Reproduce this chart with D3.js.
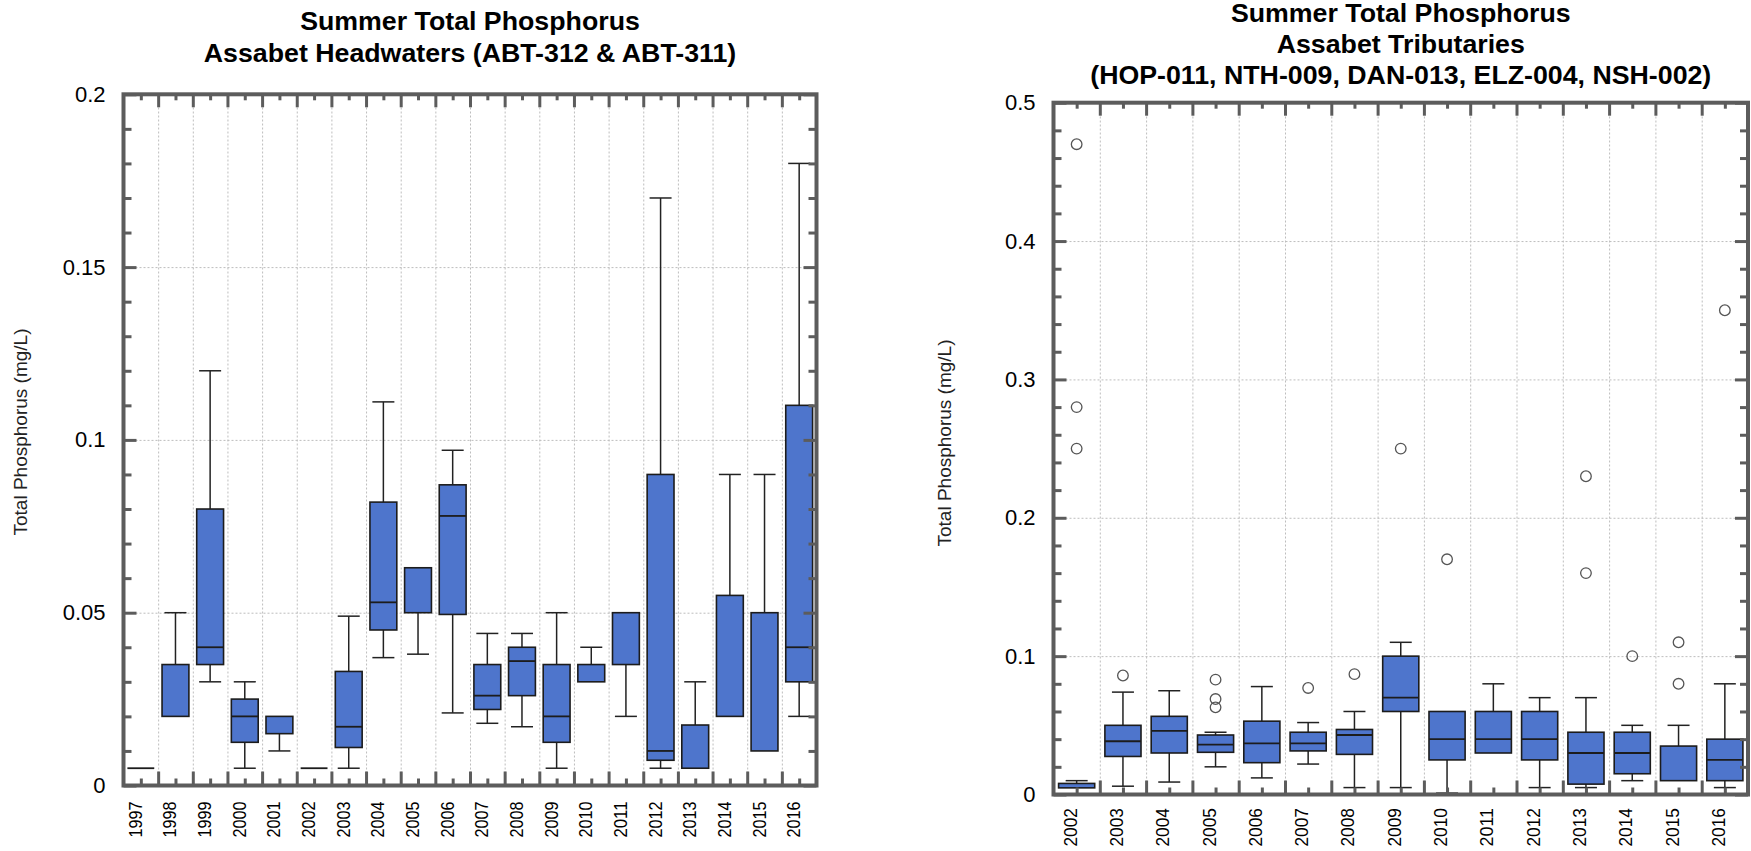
<!DOCTYPE html>
<html><head><meta charset="utf-8">
<script src="https://cdn.jsdelivr.net/npm/d3@7"></script>
<style>
body{margin:0;background:#fff;}
svg{display:block;font-family:"Liberation Sans",Arial,Helvetica,sans-serif;}
</style></head><body>
<svg id="chart" width="1751" height="851"></svg>
<script>
// ---------- Left panel: Assabet Headwaters ----------
const headYears  = ["1997","1998","1999","2000","2001","2002","2003","2004","2005","2006","2007","2008","2009","2010","2011","2012","2013","2014","2015","2016"];
const headMin    = [0.005,0.020,0.030,0.005,0.010,0.005,0.005,0.037,0.038,0.021,0.018,0.017,0.005,0.030,0.020,0.005,0.005,0.020,0.010,0.020];
const headQ1     = [0.005,0.020,0.035,0.0125,0.015,0.005,0.011,0.045,0.050,0.0495,0.022,0.026,0.0125,0.030,0.035,0.0073,0.005,0.020,0.010,0.030];
const headMedian = [0.005,0.020,0.040,0.020,0.015,0.005,0.017,0.053,0.050,0.078,0.026,0.036,0.020,0.030,0.035,0.010,0.005,0.020,0.010,0.040];
const headQ3     = [0.005,0.035,0.080,0.025,0.020,0.005,0.033,0.082,0.063,0.087,0.035,0.040,0.035,0.035,0.050,0.090,0.0175,0.055,0.050,0.110];
const headMax    = [0.005,0.050,0.120,0.030,0.020,0.005,0.049,0.111,0.063,0.097,0.044,0.044,0.050,0.040,0.050,0.170,0.030,0.090,0.090,0.180];
const headOutliers = headYears.map(() => []);
const headYTicks = [0, 0.05, 0.1, 0.15, 0.2];
const headYMinor = [0.01,0.02,0.03,0.04,0.06,0.07,0.08,0.09,0.11,0.12,0.13,0.14,0.16,0.17,0.18,0.19];
const headTitle  = ["Summer Total Phosphorus", "Assabet Headwaters (ABT-312 & ABT-311)"];

// ---------- Right panel: Assabet Tributaries ----------
const tribYears  = ["2002","2003","2004","2005","2006","2007","2008","2009","2010","2011","2012","2013","2014","2015","2016"];
const tribMin    = [0.0048,0.006,0.009,0.020,0.012,0.022,0.005,0.005,0.001,0.030,0.005,0.005,0.010,0.010,0.005];
const tribQ1     = [0.0048,0.0275,0.030,0.0305,0.023,0.0315,0.029,0.060,0.025,0.030,0.025,0.0075,0.015,0.010,0.010];
const tribMedian = [0.0048,0.0385,0.046,0.036,0.037,0.037,0.043,0.070,0.040,0.040,0.040,0.030,0.030,0.010,0.025];
const tribQ3     = [0.008,0.050,0.0565,0.043,0.053,0.045,0.047,0.100,0.060,0.060,0.060,0.045,0.045,0.035,0.040];
const tribMax    = [0.010,0.074,0.075,0.045,0.078,0.052,0.060,0.110,0.060,0.080,0.070,0.070,0.050,0.050,0.080];
const tribOutliers = [[0.47,0.28,0.25],[0.086],[],[0.083,0.069,0.063],[],[0.077],[0.087],[0.25],[0.17],[],[],[0.23,0.16],[0.10],[0.11,0.08],[0.35]];
const tribYTicks = [0, 0.1, 0.2, 0.3, 0.4, 0.5];
const tribYMinor = [0.02,0.04,0.06,0.08,0.12,0.14,0.16,0.18,0.22,0.24,0.26,0.28,0.32,0.34,0.36,0.38,0.42,0.44,0.46,0.48];
const tribTitle  = ["Summer Total Phosphorus", "Assabet Tributaries", "(HOP-011, NTH-009, DAN-013, ELZ-004, NSH-002)"];

const yLabel = "Total Phosphorus (mg/L)";

const svg = d3.select("#chart");
const FRAME = "#5c5c5c";
const BOXFILL = "#4e75cc";
const fmt = d3.format("~g");

function panel(cfg) {
  const g = svg.append("g");
  const n = cfg.years.length;
  const x = d3.scaleBand().domain(cfg.years).range([cfg.x0, cfg.x1]).padding(0);
  const xb = d3.scaleLinear().domain([0, n]).range([cfg.x0, cfg.x1]);
  const y = d3.scaleLinear().domain([0, cfg.yMax]).range([cfg.yBot, cfg.yTop]);
  const W = cfg.x1 - cfg.x0, H = cfg.yBot - cfg.yTop;
  const bw = x.bandwidth();
  const boxW = bw * cfg.boxFrac;
  const capW = 22;

  // gridlines
  const gv = g.append("g").attr("transform", `translate(0,${cfg.yBot})`)
    .call(d3.axisBottom(xb).tickValues(d3.range(1, n)).tickSize(-H).tickFormat(""));
  const gh = g.append("g").attr("transform", `translate(${cfg.x0},0)`)
    .call(d3.axisLeft(y).tickValues(cfg.yTicks.slice(1, -1)).tickSize(-W).tickFormat(""));
  [gv, gh].forEach(a => {
    a.select(".domain").remove();
    a.selectAll("line").attr("stroke", "#bdbdbd").attr("stroke-width", 1).attr("stroke-dasharray", "2,2");
  });

  // boxes
  const data = cfg.years.map((yr, i) => ({yr, lo: cfg.min[i], q1: cfg.q1[i], med: cfg.med[i], q3: cfg.q3[i], hi: cfg.max[i], out: cfg.out[i]}));
  const b = g.append("g").selectAll("g").data(data).join("g")
    .attr("transform", d => `translate(${x(d.yr) + bw / 2},0)`);
  b.append("line").attr("x1", 0).attr("x2", 0).attr("y1", d => y(d.hi)).attr("y2", d => y(d.q3))
    .attr("stroke", "#222").attr("stroke-width", 1.5);
  b.append("line").attr("x1", 0).attr("x2", 0).attr("y1", d => y(d.lo)).attr("y2", d => y(d.q1))
    .attr("stroke", "#222").attr("stroke-width", 1.5);
  b.filter(d => d.hi > d.q3).append("line").attr("x1", -capW / 2).attr("x2", capW / 2).attr("y1", d => y(d.hi)).attr("y2", d => y(d.hi))
    .attr("stroke", "#222").attr("stroke-width", 1.5);
  b.filter(d => d.lo < d.q1).append("line").attr("x1", -capW / 2).attr("x2", capW / 2).attr("y1", d => y(d.lo)).attr("y2", d => y(d.lo))
    .attr("stroke", "#222").attr("stroke-width", 1.5);
  b.filter(d => d.q3 > d.q1).append("rect").attr("x", -boxW / 2).attr("width", boxW)
    .attr("y", d => y(d.q3)).attr("height", d => y(d.q1) - y(d.q3))
    .attr("fill", BOXFILL).attr("stroke", "#1c1c1c").attr("stroke-width", 1.6);
  b.filter(d => d.q3 === d.q1 || (d.med > d.q1 && d.med < d.q3)).append("line")
    .attr("x1", -boxW / 2).attr("x2", boxW / 2).attr("y1", d => y(d.med)).attr("y2", d => y(d.med))
    .attr("stroke", "#1c1c1c").attr("stroke-width", 1.8);
  b.selectAll("circle").data(d => d.out).join("circle")
    .attr("cx", 0).attr("cy", v => y(v)).attr("r", 5.3)
    .attr("fill", "none").attr("stroke", "#555").attr("stroke-width", 1.3);

  // ticks (inward) on all four sides
  const tickStyle = a => { a.select(".domain").remove(); a.selectAll("line").attr("stroke", FRAME).attr("stroke-width", 3); };
  tickStyle(g.append("g").attr("transform", `translate(0,${cfg.yBot})`).call(d3.axisBottom(xb).tickValues(d3.range(1, n)).tickSize(-14).tickFormat("")));
  tickStyle(g.append("g").attr("transform", `translate(0,${cfg.yTop})`).call(d3.axisTop(xb).tickValues(d3.range(1, n)).tickSize(-13).tickFormat("")));
  tickStyle(g.append("g").attr("transform", `translate(${bw / 2},${cfg.yBot})`).call(d3.axisBottom(xb).tickValues(d3.range(0, n)).tickSize(-7).tickFormat("")));
  tickStyle(g.append("g").attr("transform", `translate(${bw / 2},${cfg.yTop})`).call(d3.axisTop(xb).tickValues(d3.range(0, n)).tickSize(-6).tickFormat("")));
  tickStyle(g.append("g").attr("transform", `translate(${cfg.x0},0)`).call(d3.axisLeft(y).tickValues(cfg.yMinor).tickSize(-8).tickFormat("")));
  tickStyle(g.append("g").attr("transform", `translate(${cfg.x1},0)`).call(d3.axisRight(y).tickValues(cfg.yMinor).tickSize(-8).tickFormat("")));
  tickStyle(g.append("g").attr("transform", `translate(${cfg.x1},0)`).call(d3.axisRight(y).tickValues(cfg.yTicks).tickSize(-13).tickFormat("")));
  const yl = g.append("g").attr("transform", `translate(${cfg.x0},0)`)
    .call(d3.axisLeft(y).tickValues(cfg.yTicks).tickSize(-13).tickPadding(18).tickFormat(fmt));
  tickStyle(yl);
  yl.selectAll("text").attr("font-size", 22).attr("fill", "#000").attr("font-family", "Liberation Sans, Arial, sans-serif");

  // frame
  g.append("rect").attr("x", cfg.x0).attr("y", cfg.yTop).attr("width", W).attr("height", H)
    .attr("fill", "none").attr("stroke", FRAME).attr("stroke-width", 4);

  // x labels (rotated)
  g.append("g").selectAll("text").data(cfg.years).join("text")
    .attr("transform", d => `translate(${x(d) + bw / 2 + cfg.labShift},${cfg.yBot + cfg.labGap}) rotate(-90)`)
    .attr("text-anchor", "end").attr("font-size", 19).attr("fill", "#000")
    .attr("textLength", cfg.labLen).attr("lengthAdjust", "spacingAndGlyphs")
    .text(d => d);

  // y label
  g.append("text").attr("transform", `translate(${cfg.ylabX},${cfg.ylabY}) rotate(-90)`)
    .attr("text-anchor", "middle").attr("font-size", 19).attr("fill", "#222").text(yLabel);

  // title
  g.append("g").selectAll("text").data(cfg.title).join("text")
    .attr("transform", (d, i) => `translate(${(cfg.x0 + cfg.x1) / 2},${cfg.titleY[i]}) scale(1.07,1)`)
    .attr("text-anchor", "middle").attr("font-size", 25).attr("font-weight", "bold").attr("fill", "#000")
    .text(d => d);
}

panel({
  years: headYears, min: headMin, q1: headQ1, med: headMedian, q3: headQ3, max: headMax, out: headOutliers,
  yTicks: headYTicks, yMinor: headYMinor, yMax: 0.2, title: headTitle,
  x0: 123.5, x1: 816.5, yTop: 94.3, yBot: 785.5, boxFrac: 0.775,
  labShift: 1, labGap: 16, labLen: 36, ylabX: 27, ylabY: 432, titleY: [30, 62]
});
panel({
  years: tribYears, min: tribMin, q1: tribQ1, med: tribMedian, q3: tribQ3, max: tribMax, out: tribOutliers,
  yTicks: tribYTicks, yMinor: tribYMinor, yMax: 0.5, title: tribTitle,
  x0: 1053.5, x1: 1748, yTop: 102.7, yBot: 794.5, boxFrac: 0.78,
  labShift: 0, labGap: 13.5, labLen: 38.5, ylabX: 951, ylabY: 443, titleY: [22, 53, 84]
});
</script>
</body></html>
